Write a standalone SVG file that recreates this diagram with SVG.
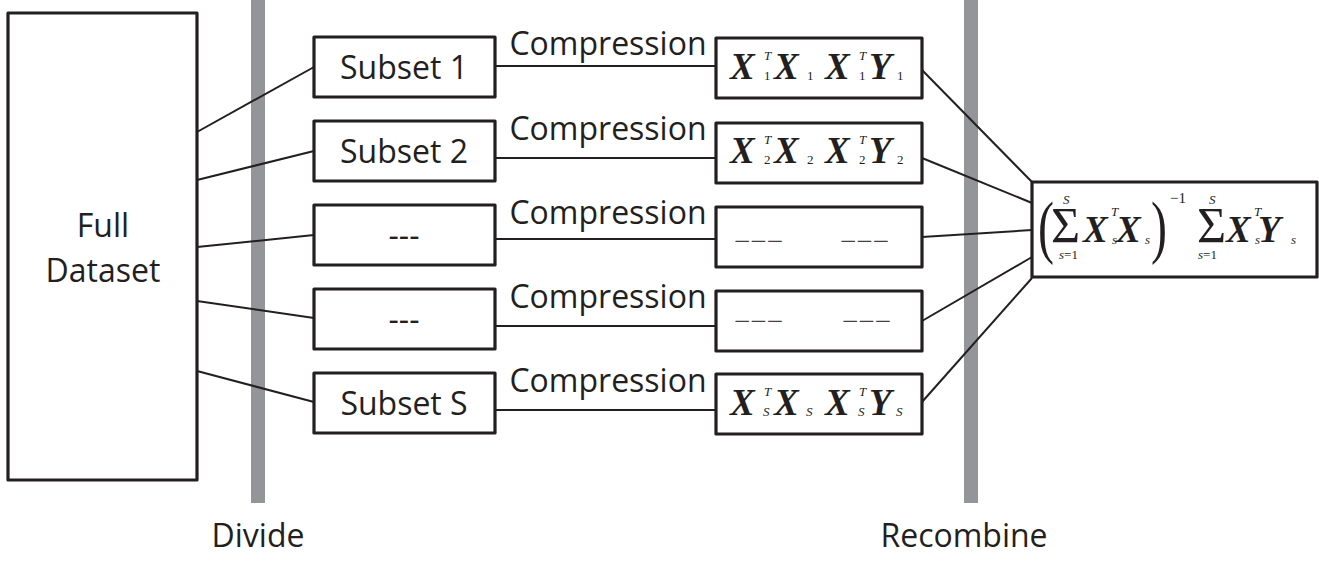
<svg xmlns="http://www.w3.org/2000/svg" width="1319" height="562" viewBox="0 0 1319 562">
  <style>
    .box { fill: #ffffff; stroke: #231f20; stroke-width: 3.2; stroke-linejoin: round; }
    .bar { fill: #939598; }
    .link { stroke: #231f20; stroke-width: 2; fill: none; }
    .lbl { font-family: "Open Sans", "Noto Sans", sans-serif; font-size: 32px; fill: #231f20; text-anchor: middle; }
    .mx { font-family: "Liberation Serif", "Times New Roman", serif; font-size: 37px; font-weight: bold; font-style: italic; fill: #231f20; }
    .sub { font-family: "Liberation Serif", "Times New Roman", serif; font-size: 13px; fill: #231f20; }
    .subi { font-family: "Liberation Serif", "Times New Roman", serif; font-size: 13px; font-style: italic; fill: #231f20; }
    .dash { font-family: "Liberation Serif", "Times New Roman", serif; font-size: 29px; fill: #414042; }
    .sig { font-family: "Liberation Serif", "Times New Roman", serif; font-size: 50px; fill: #231f20; }
    .par { font-family: "Liberation Serif", "Times New Roman", serif; font-size: 48px; fill: #231f20; }
  </style>

  <!-- stage separators -->
  <g id="separators">
    <rect class="bar" x="251" y="0" width="14" height="503"/>
    <rect class="bar" x="964" y="0" width="14" height="503"/>
  </g>

  <!-- connectors -->
  <g id="connectors">
    <line class="link" x1="197" y1="132" x2="314" y2="67"/>
    <line class="link" x1="197" y1="180" x2="314" y2="151"/>
    <line class="link" x1="197" y1="247" x2="314" y2="235"/>
    <line class="link" x1="197" y1="301" x2="314" y2="318"/>
    <line class="link" x1="197" y1="371" x2="314" y2="402"/>

    <line class="link" x1="495" y1="66" x2="716" y2="66"/>
    <line class="link" x1="495" y1="158" x2="716" y2="158"/>
    <line class="link" x1="495" y1="239" x2="716" y2="239"/>
    <line class="link" x1="495" y1="326" x2="716" y2="326"/>
    <line class="link" x1="495" y1="410" x2="716" y2="410"/>

    <line class="link" x1="922" y1="70" x2="1032" y2="182"/>
    <line class="link" x1="922" y1="158" x2="1032" y2="203"/>
    <line class="link" x1="922" y1="237" x2="1032" y2="230"/>
    <line class="link" x1="922" y1="321" x2="1032" y2="257"/>
    <line class="link" x1="922" y1="402" x2="1032" y2="278"/>
  </g>

  <!-- edge labels -->
  <g id="edge-labels">
    <text class="lbl" x="608" y="55">Compression</text>
    <text class="lbl" x="608" y="140">Compression</text>
    <text class="lbl" x="608" y="224">Compression</text>
    <text class="lbl" x="608" y="308">Compression</text>
    <text class="lbl" x="608" y="392">Compression</text>
  </g>

  <g id="full-dataset">
    <rect class="box" x="8" y="13" width="189" height="467"/>
    <text class="lbl" x="103" y="237">Full</text>
    <text class="lbl" x="103" y="282">Dataset</text>
  </g>

  <g id="subset-1">
    <rect class="box" x="314" y="37" width="181" height="60"/>
    <text class="lbl" x="404" y="79">Subset 1</text>
  </g>
  <g id="subset-2">
    <rect class="box" x="314" y="121" width="181" height="60"/>
    <text class="lbl" x="404" y="163">Subset 2</text>
  </g>
  <g id="subset-3">
    <rect class="box" x="314" y="205" width="181" height="60"/>
    <text class="lbl" x="404" y="247">---</text>
  </g>
  <g id="subset-4">
    <rect class="box" x="314" y="289" width="181" height="60"/>
    <text class="lbl" x="404" y="331">---</text>
  </g>
  <g id="subset-s">
    <rect class="box" x="314" y="373" width="181" height="60"/>
    <text class="lbl" x="404" y="415">Subset S</text>
  </g>

  <g id="stats-1">
    <rect class="box" x="716" y="38" width="206" height="60"/>
    <text class="mx" x="730" y="79">X</text>
    <text class="subi" x="764" y="60">T</text>
    <text class="sub" x="764" y="80">1</text>
    <text class="mx" x="774" y="79">X</text>
    <text class="sub" x="807" y="80">1</text>
    <text class="mx" x="825" y="79">X</text>
    <text class="subi" x="859" y="60">T</text>
    <text class="sub" x="859" y="80">1</text>
    <text class="mx" x="869" y="79">Y</text>
    <text class="sub" x="897" y="80">1</text>
  </g>
  <g id="stats-2">
    <rect class="box" x="716" y="123" width="206" height="60"/>
    <text class="mx" x="730" y="163">X</text>
    <text class="subi" x="764" y="144">T</text>
    <text class="sub" x="764" y="164">2</text>
    <text class="mx" x="774" y="163">X</text>
    <text class="sub" x="807" y="164">2</text>
    <text class="mx" x="825" y="163">X</text>
    <text class="subi" x="859" y="144">T</text>
    <text class="sub" x="859" y="164">2</text>
    <text class="mx" x="869" y="163">Y</text>
    <text class="sub" x="897" y="164">2</text>
  </g>
  <g id="stats-3">
    <rect class="box" x="716" y="207" width="206" height="60"/>
    <text class="dash" x="734" y="251">−−−</text>
    <text class="dash" x="840" y="251">−−−</text>
  </g>
  <g id="stats-4">
    <rect class="box" x="716" y="291" width="206" height="60"/>
    <text class="dash" x="734" y="331">−−−</text>
    <text class="dash" x="842" y="331">−−−</text>
  </g>
  <g id="stats-s">
    <rect class="box" x="716" y="374" width="206" height="60"/>
    <text class="mx" x="730" y="415">X</text>
    <text class="subi" x="764" y="396">T</text>
    <text class="subi" x="763" y="416">S</text>
    <text class="mx" x="774" y="415">X</text>
    <text class="subi" x="806" y="416">S</text>
    <text class="mx" x="825" y="415">X</text>
    <text class="subi" x="859" y="396">T</text>
    <text class="subi" x="858" y="416">S</text>
    <text class="mx" x="869" y="415">Y</text>
    <text class="subi" x="896" y="416">S</text>
  </g>

  <g id="recombined-estimate">
    <rect class="box" x="1032" y="182" width="285" height="95"/>
    <text class="par" transform="translate(1038 250) scale(1 1.45)">(</text>
    <text class="sig" x="1051" y="242">Σ</text>
    <text class="subi" x="1063" y="204">S</text>
    <text class="sub" x="1059" y="259"><tspan font-style="italic">s</tspan>=1</text>
    <text class="mx" x="1083" y="242">X</text>
    <text class="subi" x="1111" y="216">T</text>
    <text class="subi" x="1112" y="244">s</text>
    <text class="mx" x="1116" y="242">X</text>
    <text class="subi" x="1145" y="244">s</text>
    <text class="par" transform="translate(1151 250) scale(1 1.45)">)</text>
    <text class="sub" x="1170" y="203" style="font-size:15px">−1</text>
    <text class="sig" x="1197" y="242">Σ</text>
    <text class="subi" x="1209" y="204">S</text>
    <text class="sub" x="1198" y="259"><tspan font-style="italic">s</tspan>=1</text>
    <text class="mx" x="1226" y="242">X</text>
    <text class="subi" x="1254" y="216">T</text>
    <text class="subi" x="1255" y="244">s</text>
    <text class="mx" x="1258" y="242">Y</text>
    <text class="subi" x="1291" y="244">s</text>
  </g>

  <g id="stage-labels">
    <text class="lbl" x="258" y="547">Divide</text>
    <text class="lbl" x="964" y="547">Recombine</text>
  </g>
</svg>
